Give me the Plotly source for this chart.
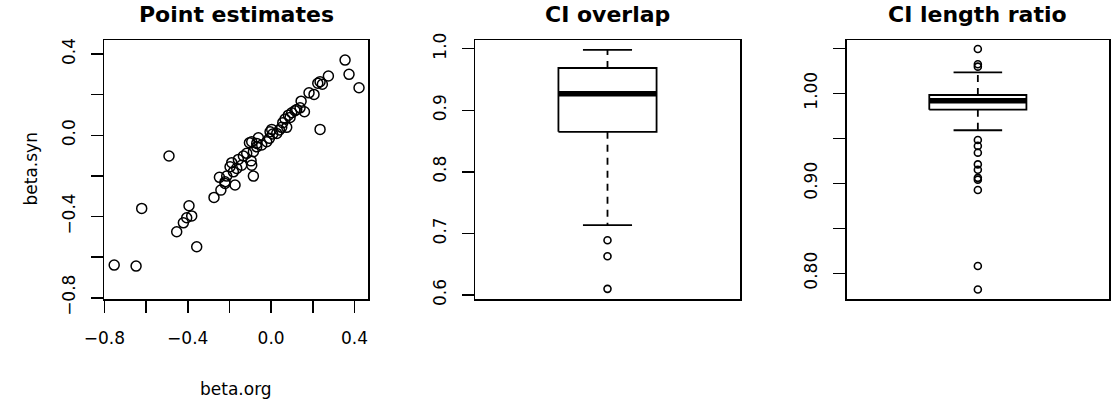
import plotly.graph_objects as go

# ---------------- data ----------------
beta_org = [0.355, 0.374, 0.422, 0.275, 0.235, 0.246, 0.224, 0.206, 0.182, 0.144,
            0.160, 0.139, 0.123, 0.099, 0.083, 0.067, 0.056, 0.075, 0.040, 0.235,
            0.003, 0.008, -0.008, -0.021, -0.045, -0.061, -0.093, -0.104, -0.085, -0.117,
            -0.096, -0.093, -0.085, -0.133, -0.141, -0.165, -0.189, -0.197, -0.181, -0.173,
            -0.213, -0.248, -0.221, -0.241, -0.274, -0.490, -0.621, -0.394, -0.381, -0.405,
            -0.421, -0.453, -0.357, -0.753, -0.648, -0.069, -0.005, 0.027, 0.051, 0.091,
            0.115, -0.069, -0.157, -0.221]
beta_syn = [0.370, 0.300, 0.234, 0.292, 0.264, 0.251, 0.256, 0.201, 0.209, 0.168,
            0.116, 0.135, 0.127, 0.111, 0.099, 0.080, 0.062, 0.039, 0.026, 0.029,
            0.029, 0.006, -0.015, -0.032, -0.048, -0.012, -0.032, -0.037, -0.081, -0.089,
            -0.126, -0.147, -0.201, -0.102, -0.147, -0.163, -0.135, -0.155, -0.180, -0.245,
            -0.201, -0.207, -0.237, -0.270, -0.306, -0.102, -0.360, -0.347, -0.397, -0.406,
            -0.431, -0.475, -0.549, -0.639, -0.644, -0.057, 0.017, 0.009, 0.039, 0.088,
            0.121, -0.040, -0.119, -0.229]

# boxplot statistics: lower whisker, Q1, median, Q3, upper whisker
ci_overlap_stats = [0.7136, 0.865, 0.927, 0.9686, 0.998]
ci_overlap_outliers = [0.689, 0.663, 0.610]

ci_ratio_stats = [0.9589, 0.9818, 0.9917, 0.9981, 1.0233]
ci_ratio_outliers = [1.0492, 1.0322, 1.0296, 0.948, 0.9415, 0.934, 0.921, 0.915,
                     0.906, 0.904, 0.8926, 0.808, 0.782]

titles = ["Point estimates", "CI overlap", "CI length ratio"]
xlab = "beta.org"
ylab = "beta.syn"

# ---------------- layout constants ----------------
W, H = 1112, 403
FONT = "DejaVu Sans, Liberation Sans, Arial, sans-serif"
TICK_FS = 17
TITLE_FS = 22


def px(x):
    return x / W


def py(y):
    return 1 - y / H


top_px, bot_px = 40, 299
ydom = [py(bot_px), py(top_px)]
xdoms = [[px(104.3), px(368.3)], [px(475), px(740)], [px(846.7), px(1109)]]

fig = go.Figure()

# scatter panel
fig.add_trace(go.Scatter(
    x=beta_org, y=beta_syn, mode="markers",
    marker=dict(symbol="circle-open", size=10, color="black", line=dict(width=1.5, color="black")),
    xaxis="x", yaxis="y", showlegend=False, hoverinfo="skip"))


def add_box(stats, outliers, xa, ya):
    lo, q1, med, q3, hi = stats
    c, hw, cw = 1.0, 0.2, 0.1
    line = dict(color="black", width=1.8)
    dash = dict(color="black", width=1.8, dash="7px,6px")
    # whiskers (dashed)
    fig.add_trace(go.Scatter(x=[c, c], y=[q3, hi], mode="lines", line=dash,
                             xaxis=xa, yaxis=ya, showlegend=False, hoverinfo="skip"))
    fig.add_trace(go.Scatter(x=[c, c], y=[q1, lo], mode="lines", line=dash,
                             xaxis=xa, yaxis=ya, showlegend=False, hoverinfo="skip"))
    # staples
    for v in (lo, hi):
        fig.add_trace(go.Scatter(x=[c - cw, c + cw], y=[v, v], mode="lines", line=line,
                                 xaxis=xa, yaxis=ya, showlegend=False, hoverinfo="skip"))
    # box
    fig.add_trace(go.Scatter(x=[c - hw, c + hw, c + hw, c - hw, c - hw],
                             y=[q1, q1, q3, q3, q1], mode="lines", line=line,
                             fill="toself", fillcolor="white",
                             xaxis=xa, yaxis=ya, showlegend=False, hoverinfo="skip"))
    # median
    fig.add_trace(go.Scatter(x=[c - hw, c + hw], y=[med, med], mode="lines",
                             line=dict(color="black", width=5.5),
                             xaxis=xa, yaxis=ya, showlegend=False, hoverinfo="skip"))
    # outliers
    fig.add_trace(go.Scatter(x=[c] * len(outliers), y=outliers, mode="markers",
                             marker=dict(symbol="circle-open", size=7, color="black",
                                         line=dict(width=1.6, color="black")),
                             xaxis=xa, yaxis=ya, showlegend=False, hoverinfo="skip"))


add_box(ci_overlap_stats, ci_overlap_outliers, "x2", "y2")
add_box(ci_ratio_stats, ci_ratio_outliers, "x3", "y3")

common = dict(showgrid=False, zeroline=False, showline=True, linecolor="black",
              linewidth=1.5, mirror=True, ticklen=12, tickwidth=1.5, automargin=False,
              tickcolor="black", tickfont=dict(family=FONT, size=TICK_FS, color="black"))

minor_style = dict(ticks="outside", ticklen=12, tickwidth=1.5, tickcolor="black", showgrid=False)

fig.update_layout(
    template="none",
    width=W, height=H,
    margin=dict(l=0, r=0, t=0, b=0, pad=0, autoexpand=False),
    paper_bgcolor="white", plot_bgcolor="white",
    font=dict(family=FONT, size=TICK_FS, color="black"),
    xaxis=dict(domain=xdoms[0], range=[-0.8005, 0.4665], anchor="y", ticks="outside",
               tick0=0, dtick=0.4, tickformat=".1f", ticklabelstandoff=11,
               minor=dict(dtick=0.2, tick0=0, **minor_style), **common),
    yaxis=dict(domain=ydom, range=[-0.806, 0.469], anchor="x", ticks="outside",
               tick0=0, dtick=0.4, tickformat=".1f", tickangle=-90, ticklabelstandoff=9,
               minor=dict(dtick=0.2, tick0=0, **minor_style), **common),
    xaxis2=dict(domain=xdoms[1], range=[0.46, 1.54], anchor="y2",
                showticklabels=False, ticks="", **common),
    yaxis2=dict(domain=ydom, range=[0.5935, 1.0141], anchor="x2", ticks="outside",
                tick0=0, dtick=0.1, tickformat=".1f", tickangle=-90, ticklabelstandoff=9, **common),
    xaxis3=dict(domain=xdoms[2], range=[0.46, 1.54], anchor="y3",
                showticklabels=False, ticks="", **common),
    yaxis3=dict(domain=ydom, range=[0.7714, 1.0592], anchor="x3", ticks="outside",
                tick0=0, dtick=0.1, tickformat=".2f", tickangle=-90, ticklabelstandoff=9,
                minor=dict(dtick=0.05, tick0=0, **minor_style), **common),
)

annotations = []
for t, dom in zip(titles, xdoms):
    annotations.append(dict(text="<b>" + t + "</b>", x=(dom[0] + dom[1]) / 2, y=py(14.5),
                            xref="paper", yref="paper", xanchor="center", yanchor="middle",
                            showarrow=False, font=dict(family=FONT, size=TITLE_FS, color="black")))
annotations.append(dict(text=xlab, x=(xdoms[0][0] + xdoms[0][1]) / 2, y=py(389),
                        xref="paper", yref="paper", xanchor="center", yanchor="middle",
                        showarrow=False, font=dict(family=FONT, size=TICK_FS, color="black")))
annotations.append(dict(text=ylab, x=px(30), y=(ydom[0] + ydom[1]) / 2, textangle=-90,
                        xref="paper", yref="paper", xanchor="center", yanchor="middle",
                        showarrow=False, font=dict(family=FONT, size=TICK_FS, color="black")))
fig.update_layout(annotations=annotations)

fig.write_html("out.html", config={"displayModeBar": False, "staticPlot": True},
               post_script="document.body.style.margin='0';document.body.style.overflow='hidden';")
